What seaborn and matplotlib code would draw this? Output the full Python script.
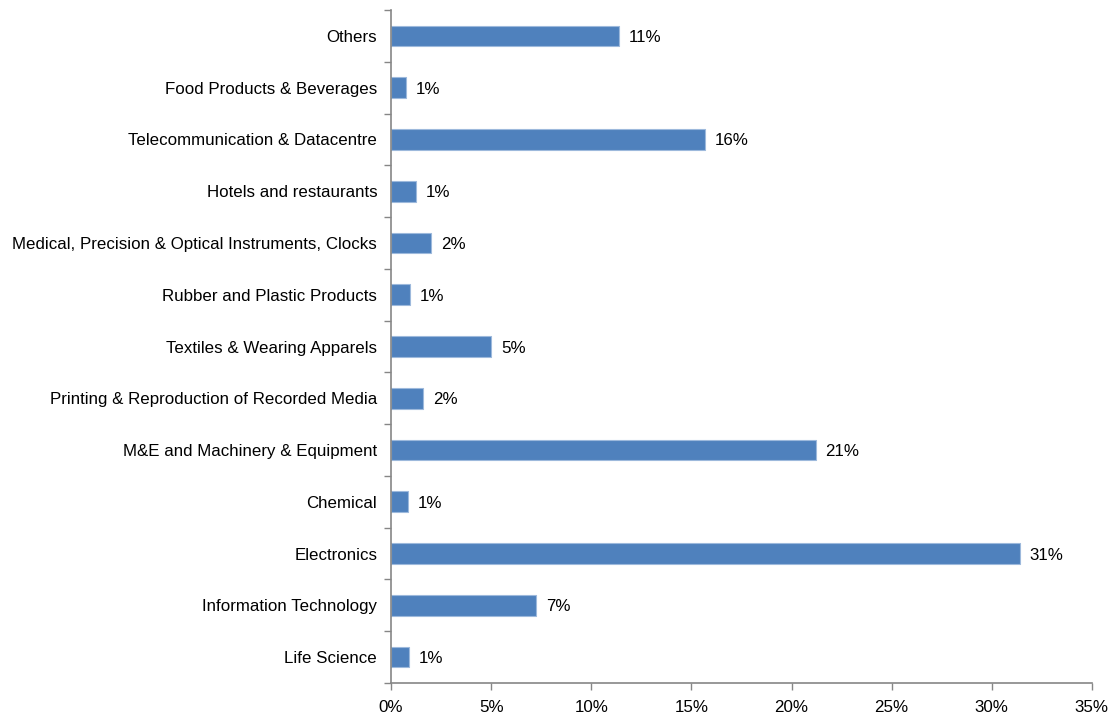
import numpy as np
import pandas as pd
import matplotlib
matplotlib.use("Agg")
import matplotlib.pyplot as plt
import seaborn as sns
from matplotlib.ticker import FuncFormatter, FixedLocator

sectors = [
    "Others",
    "Food Products & Beverages",
    "Telecommunication & Datacentre",
    "Hotels and restaurants",
    "Medical, Precision & Optical Instruments, Clocks",
    "Rubber and Plastic Products",
    "Textiles & Wearing Apparels",
    "Printing & Reproduction of Recorded Media",
    "M&E and Machinery & Equipment",
    "Chemical",
    "Electronics",
    "Information Technology",
    "Life Science",
]
shares = [11.4, 0.75, 15.7, 1.25, 2.0, 0.95, 5.0, 1.6, 21.2, 0.85, 31.4, 7.25, 0.9]
x_ticks = [0, 5, 10, 15, 20, 25, 30, 35]

df = pd.DataFrame({"sector": sectors, "share": shares})

sns.set_style("white", {"xtick.bottom": True, "ytick.left": True})
plt.rcParams["font.family"] = ["Liberation Sans", "DejaVu Sans"]
fs = 12.2
plt.rcParams["font.size"] = fs

fig = plt.figure(figsize=(11.16, 7.17), dpi=100)
ax = fig.add_axes([0.3504, 0.0474, 0.628, 0.9386])

bar_color = "#4F81BD"
sns.barplot(data=df, x="share", y="sector", orient="h", color=bar_color,
            width=0.4, saturation=1, edgecolor="#9DB9DC", linewidth=0.8, ax=ax)

ax.set_xlim(0, 35)
ax.set_ylim(len(sectors) - 0.5, -0.5)
ax.xaxis.set_major_locator(FixedLocator(x_ticks))
ax.xaxis.set_major_formatter(FuncFormatter(lambda v, p: f"{v:.0f}%"))
ax.set_xlabel("")
ax.set_ylabel("")

# category labels without marks, boundary ticks as minor marks
ax.tick_params(axis="y", which="major", left=True, length=0, pad=10, labelsize=fs,
               colors="#000000")
ax.set_yticks(np.arange(len(sectors) + 1) - 0.5, minor=True)
ax.tick_params(axis="y", which="minor", left=True, length=5, width=1, color="#868686",
               direction="out")
ax.tick_params(axis="x", which="major", bottom=True, length=5, width=1, color="#868686",
               direction="out", pad=7, labelsize=fs, labelcolor="#000000")

for side in ("top", "right"):
    ax.spines[side].set_visible(False)
for side in ("left", "bottom"):
    ax.spines[side].set_color("#868686")
    ax.spines[side].set_linewidth(1.2)

# value labels to the right of each bar
for i, v in enumerate(shares):
    ax.annotate(f"{v:.0f}%", xy=(v, i), xytext=(7, 0), textcoords="offset points",
                va="center_baseline", ha="left", fontsize=fs, color="#000000")

fig.savefig("out.png", dpi=100)
